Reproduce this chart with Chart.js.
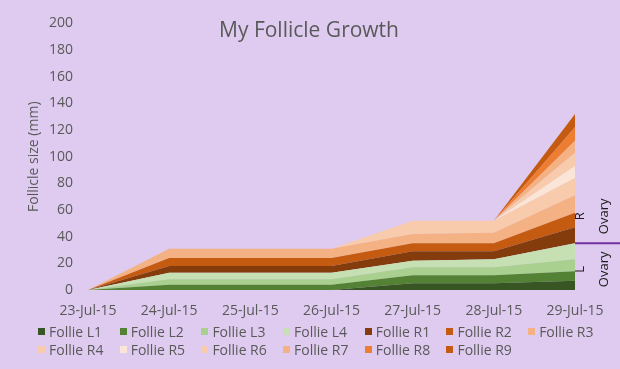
<!DOCTYPE html>
<html>
<head>
<meta charset="utf-8">
<script src="https://cdn.jsdelivr.net/npm/chart.js@4.4.1/dist/chart.umd.min.js"></script>
<style>
  body { margin: 0; }
  #wrap { position: relative; width: 620px; height: 369px; background: #dfcbef; font-family: 'Open Sans', sans-serif; overflow: hidden; }
  #legend { position: absolute; left: 38px; top: 322px; display: grid; grid-template-columns: repeat(7, 81.7px); }
  .item { display: flex; align-items: center; height: 18px; font-size: 14px; color: #595959; white-space: nowrap; }
  .box { width: 7px; height: 7px; margin-right: 4px; flex: none; }
</style>
</head>
<body>
<div id="wrap">
  <canvas id="chart" width="620" height="369"></canvas>
  <div id="legend"></div>
</div>
<script>
const dates = ['23-Jul-15', '24-Jul-15', '25-Jul-15', '26-Jul-15', '27-Jul-15', '28-Jul-15', '29-Jul-15'];

// follicle sizes in mm, left ovary
const follieL1 = [0, 0, 0, 0, 5, 5, 7];
const follieL2 = [0, 4, 4, 4, 6, 6, 7];
const follieL3 = [0, 4, 4, 4, 6, 6, 9];
const follieL4 = [0, 5, 5, 5, 5, 6, 12];
// right ovary
const follieR1 = [0, 5, 5, 5, 7, 6, 12];
const follieR2 = [0, 6, 6, 6, 6, 6, 11];
const follieR3 = [0, 7, 7, 7, 7, 8, 13];
const follieR4 = [0, 0, 0, 0, 10, 9, 13];
const follieR5 = [0, 0, 0, 0, 0, 0, 9];
const follieR6 = [0, 0, 0, 0, 0, 0, 10];
const follieR7 = [0, 0, 0, 0, 0, 0, 9];
const follieR8 = [0, 0, 0, 0, 0, 0, 10];
const follieR9 = [0, 0, 0, 0, 0, 0, 10];

const names = ['Follie L1', 'Follie L2', 'Follie L3', 'Follie L4', 'Follie R1', 'Follie R2', 'Follie R3',
               'Follie R4', 'Follie R5', 'Follie R6', 'Follie R7', 'Follie R8', 'Follie R9'];
const series = [follieL1, follieL2, follieL3, follieL4, follieR1, follieR2, follieR3,
                follieR4, follieR5, follieR6, follieR7, follieR8, follieR9];
const colors = ['#375623', '#548235', '#a9d08e', '#c6e0b4', '#843c0c', '#c55a11', '#f4b183',
                '#f8cbad', '#fbe5d6', '#f8cbad', '#f4b183', '#ed7d31', '#c55a11'];

const textGray = '#595959';

const overlay = {
  id: 'overlay',
  afterDatasetsDraw(chart) {
    const { ctx, chartArea, scales: { y } } = chart;
    const last = dates.length - 1;
    const leftTotal = follieL1[last] + follieL2[last] + follieL3[last] + follieL4[last];
    const yLine = y.getPixelForValue(leftTotal);

    ctx.save();
    ctx.strokeStyle = '#7030a0';
    ctx.lineWidth = 2;
    ctx.beginPath();
    ctx.moveTo(chartArea.right, yLine);
    ctx.lineTo(chart.width, yLine);
    ctx.stroke();

    ctx.fillStyle = '#1a1a1a';
    ctx.font = '13px "Open Sans"';
    ctx.textAlign = 'center';
    ctx.textBaseline = 'middle';
    const rotText = (txt, x, yc) => {
      ctx.save();
      ctx.translate(x, yc);
      ctx.rotate(-Math.PI / 2);
      ctx.fillText(txt, 0, 0);
      ctx.restore();
    };
    rotText('R', chartArea.right + 5, yLine - 27);
    rotText('Ovary', chartArea.right + 29, yLine - 27);
    rotText('L', chartArea.right + 5, yLine + 26);
    rotText('Ovary', chartArea.right + 29, yLine + 26);

    // chart title sits over the plot
    ctx.fillStyle = textGray;
    ctx.font = '21px "Open Sans"';
    ctx.fillText('My Follicle Growth', 309, 31);
    ctx.restore();
  }
};

const ctx = document.getElementById('chart').getContext('2d');
const chart = new Chart(ctx, {
  type: 'line',
  data: {
    labels: dates,
    datasets: series.map((d, i) => ({
      label: names[i],
      data: d,
      backgroundColor: colors[i],
      borderWidth: 0,
      pointRadius: 0,
      fill: i === 0 ? 'origin' : '-1'
    }))
  },
  options: {
    responsive: false,
    animation: false,
    events: [],
    layout: { padding: { top: 20, left: 0, right: 45, bottom: 49 } },
    plugins: { legend: { display: false }, tooltip: { enabled: false } },
    scales: {
      x: {
        offset: false,
        grid: { display: false, drawTicks: false },
        border: { display: false },
        ticks: { color: textGray, font: { family: 'Open Sans', size: 14 }, padding: 13, maxRotation: 0, autoSkip: false },
        afterFit: s => { s.height = 30; }
      },
      y: {
        stacked: true,
        min: 0,
        max: 200,
        grid: { display: false, drawTicks: false },
        border: { display: false },
        ticks: { stepSize: 20, color: textGray, font: { family: 'Open Sans', size: 14 }, padding: 15 },
        title: { display: true, text: 'Follicle size (mm)', color: textGray, font: { family: 'Open Sans', size: 14 }, padding: { top: 26 } },
        afterFit: s => { s.width = 88; }
      }
    }
  },
  plugins: [overlay]
});

// legend laid out in fixed columns like the original
const legend = document.getElementById('legend');
names.forEach((n, i) => {
  const item = document.createElement('div');
  item.className = 'item';
  const box = document.createElement('span');
  box.className = 'box';
  box.style.background = colors[i];
  item.appendChild(box);
  item.appendChild(document.createTextNode(n));
  legend.appendChild(item);
});
</script>
</body>
</html>
